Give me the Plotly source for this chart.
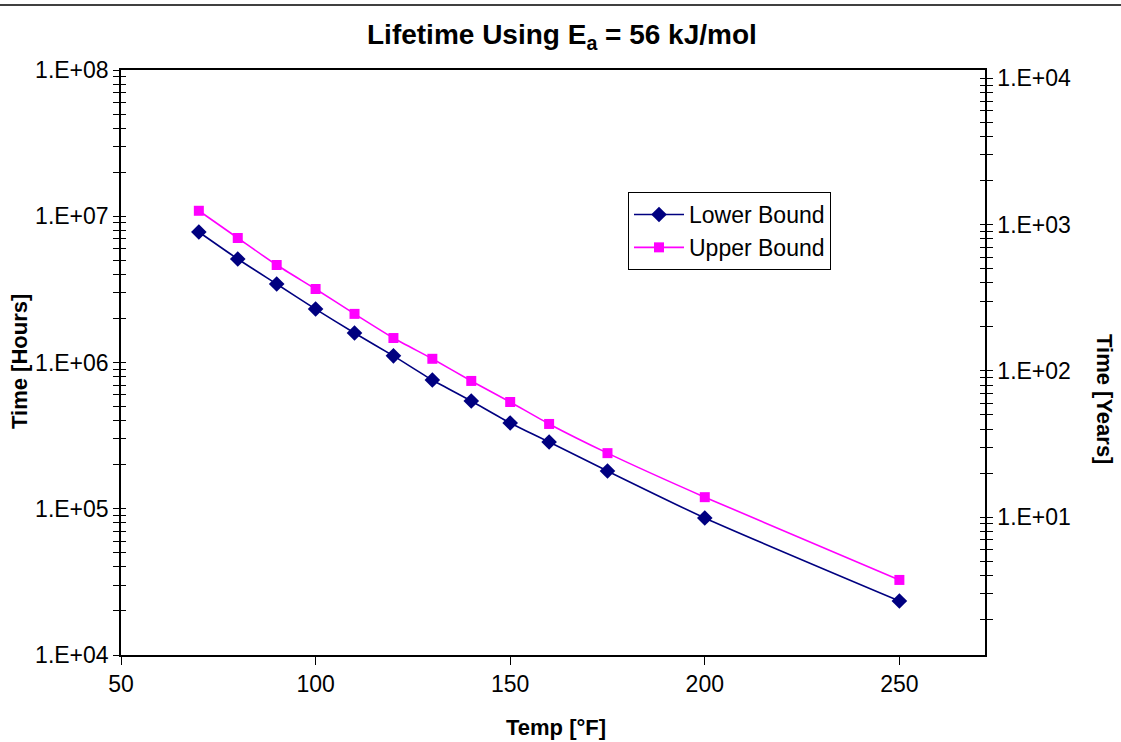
import math
import plotly.graph_objects as go

temps_f = [70, 80, 90, 100, 110, 120, 130, 140, 150, 160, 175, 200, 250]
lower_hours = [7.80e6, 5.10e6, 3.44e6, 2.32e6, 1.59e6, 1.11e6, 7.59e5, 5.45e5, 3.86e5, 2.86e5, 1.81e5, 8.65e4, 2.34e4]
upper_hours = [1.09e7, 7.10e6, 4.64e6, 3.18e6, 2.15e6, 1.47e6, 1.06e6, 7.48e5, 5.37e5, 3.80e5, 2.40e5, 1.20e5, 3.26e4]
hours_per_year = 8760

left_decades = [1e4, 1e5, 1e6, 1e7, 1e8]
left_labels = ["1.E+04", "1.E+05", "1.E+06", "1.E+07", "1.E+08"]
right_decades = [1e1, 1e2, 1e3, 1e4]
right_labels = ["1.E+01", "1.E+02", "1.E+03", "1.E+04"]
x_ticks = [50, 100, 150, 200, 250]

FONT = "Liberation Sans, Arial, sans-serif"

def with_minor(decades, labels, lo, hi):
    vals, txt = [], []
    d = 1.0
    while d <= hi * 1.0001:
        for m in range(1, 10):
            v = d * m
            if lo * 0.9999 <= v <= hi * 1.0001:
                vals.append(v)
                lab = ""
                for dv, dl in zip(decades, labels):
                    if abs(v - dv) / dv < 1e-6:
                        lab = dl
                txt.append(lab)
        d *= 10
    return vals, txt

y_lo, y_hi = 1e4, 1e8
yl_vals, yl_txt = with_minor(left_decades, left_labels, y_lo, y_hi)
r_lo, r_hi = y_lo / hours_per_year, y_hi / hours_per_year
yr_vals, yr_txt = with_minor(right_decades, right_labels, r_lo, r_hi)

# body margin removed via post_script; lay out in reference pixel coordinates
W, H = 1121, 742
L, T = 121, 70
pw, ph = 864, 585
R = W - L - pw
B = H - T - ph

def px(x):
    return (x - L) / pw

def py(y):
    return 1 - (y - T) / ph

fig = go.Figure()
fig.add_trace(go.Scatter(
    x=temps_f, y=lower_hours, name="Lower Bound", mode="lines+markers",
    line=dict(color="#000080", width=1.6, shape="spline", smoothing=0.6),
    marker=dict(symbol="diamond", size=12, color="#000080"),
))
fig.add_trace(go.Scatter(
    x=temps_f, y=upper_hours, name="Upper Bound", mode="lines+markers",
    line=dict(color="#FF00FF", width=1.6, shape="spline", smoothing=0.6),
    marker=dict(symbol="square", size=10, color="#FF00FF"),
))
fig.add_trace(go.Scatter(x=[None], y=[None], yaxis="y2", showlegend=False, hoverinfo="skip"))
fig.add_trace(go.Scatter(x=[None], y=[None], yaxis="y3", showlegend=False, hoverinfo="skip"))
fig.add_trace(go.Scatter(x=[None], y=[None], yaxis="y4", showlegend=False, hoverinfo="skip"))

tickfont = dict(family=FONT, size=23, color="black")

fig.update_layout(
    width=W, height=H,
    margin=dict(l=L, r=R, t=T, b=B),
    paper_bgcolor="white", plot_bgcolor="white",
    showlegend=True,
    legend=dict(
        x=px(628), y=py(192), xanchor="left", yanchor="top",
        bordercolor="black", borderwidth=1, bgcolor="white",
        font=dict(family=FONT, size=23, color="black"),
        tracegroupgap=2, itemwidth=50,
    ),
    xaxis=dict(
        range=[50, 272], tickvals=x_ticks, ticktext=[str(v) for v in x_ticks],
        ticks="outside", ticklen=8, tickcolor="black", showgrid=False, zeroline=False,
        showline=True, linecolor="black", linewidth=1.5, mirror=True,
        tickfont=tickfont,
    ),
    yaxis=dict(
        type="log", range=[math.log10(y_lo), math.log10(y_hi)],
        tickvals=yl_vals, ticktext=yl_txt, ticks="outside", ticklen=6, tickcolor="black",
        showgrid=False, zeroline=False, showline=True, linecolor="black", linewidth=1.5,
        tickfont=tickfont,
    ),
    yaxis3=dict(
        type="log", range=[math.log10(y_lo), math.log10(y_hi)], overlaying="y", side="left",
        tickvals=yl_vals, ticktext=["" for _ in yl_vals], ticks="inside", ticklen=5, tickcolor="black",
        showgrid=False, zeroline=False, showline=False, showticklabels=False,
    ),
    yaxis2=dict(
        type="log", range=[math.log10(r_lo), math.log10(r_hi)], overlaying="y", side="right",
        tickvals=yr_vals, ticktext=yr_txt, ticks="outside", ticklen=6, tickcolor="black",
        showgrid=False, zeroline=False, showline=True, linecolor="black", linewidth=1.5,
        tickfont=tickfont,
    ),
    yaxis4=dict(
        type="log", range=[math.log10(r_lo), math.log10(r_hi)], overlaying="y", side="right",
        tickvals=yr_vals, ticktext=["" for _ in yr_vals], ticks="inside", ticklen=5, tickcolor="black",
        showgrid=False, zeroline=False, showline=False, showticklabels=False,
    ),
    annotations=[
        dict(text="<b>Lifetime Using E<sub>a</sub> = 56 kJ/mol</b>", xref="paper", yref="paper",
             x=px(562), y=py(37), xanchor="center", yanchor="middle",
             showarrow=False, font=dict(family=FONT, size=28, color="black")),
        dict(text="<b>Temp [°F]</b>", xref="paper", yref="paper",
             x=px(556), y=py(727), xanchor="center", yanchor="middle",
             showarrow=False, font=dict(family=FONT, size=22, color="black")),
        dict(text="<b>Time [Hours]</b>", xref="paper", yref="paper", textangle=-90,
             x=px(19), y=py(362), xanchor="center", yanchor="middle",
             showarrow=False, font=dict(family=FONT, size=22, color="black")),
        dict(text="<b>Time [Years]</b>", xref="paper", yref="paper", textangle=90,
             x=px(1105), y=py(399), xanchor="center", yanchor="middle",
             showarrow=False, font=dict(family=FONT, size=22, color="black")),
    ],
    shapes=[
        dict(type="line", xref="paper", yref="paper",
             x0=-L / pw, x1=1 + R / pw, y0=py(5), y1=py(5),
             line=dict(color="black", width=1.5)),
    ],
)

fig.write_html("out.html", config={"displayModeBar": False},
               post_script="document.body.style.margin='0px';")
